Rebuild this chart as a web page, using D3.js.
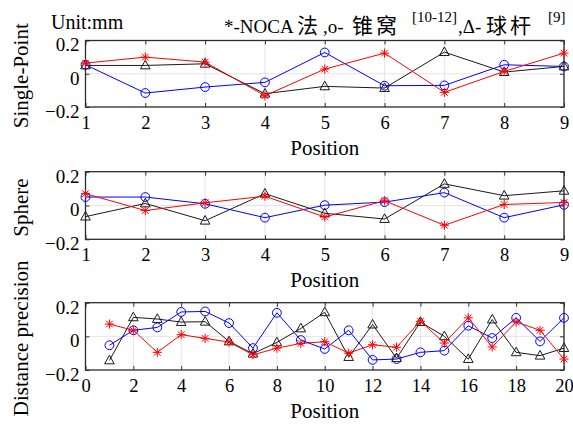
<!DOCTYPE html>
<html>
<head>
<meta charset="utf-8">
<script src="https://cdn.jsdelivr.net/npm/d3@7"></script>
<style>
  body { margin: 0; background: #fff; }
  text { font-family: "Liberation Serif", "Times New Roman", serif; fill: #000; }
  .cjk { font-family: "Noto Sans CJK SC", sans-serif; }
</style>
</head>
<body>
<svg id="chart" width="573" height="425"></svg>
<script>
// ---- data (unit: mm) ----
const positions9 = [1, 2, 3, 4, 5, 6, 7, 8, 9];
const positions20 = d3.range(1, 21);

const singleNoca = [0.064, 0.10, 0.07, -0.132, 0.028, 0.124, -0.112, 0.014, 0.124];
const singleCone = [0.054, -0.116, -0.08, -0.052, 0.128, -0.072, -0.07, 0.054, 0.044];
const singleBall = [0.05, 0.05, 0.06, -0.12, -0.076, -0.086, 0.13, 0.01, 0.044];

const sphereNoca = [0.07, -0.03, 0.016, 0.055, -0.068, 0.028, -0.117, 0.006, 0.018];
const sphereCone = [0.05, 0.05, 0.01, -0.072, 0.002, 0.02, 0.076, -0.072, 0.004];
const sphereBall = [-0.066, 0.012, -0.09, 0.07, -0.046, -0.08, 0.128, 0.058, 0.087];

const distNoca = [0.073, 0.036, -0.095, 0.01, -0.012, -0.034, -0.11, -0.07, -0.042, -0.032,
                  -0.1, -0.05, -0.065, 0.09, -0.04, 0.11, -0.063, 0.085, 0.036, -0.135];
const distCone = [-0.053, 0.036, 0.053, 0.145, 0.148, 0.079, -0.07, 0.14, -0.022, -0.075,
                  0.036, -0.14, -0.135, -0.095, -0.085, 0.063, -0.01, 0.11, -0.03, 0.11];
const distBall = [-0.143, 0.113, 0.103, 0.085, 0.087, -0.03, -0.103, -0.036, 0.047, 0.143,
                  -0.123, 0.07, -0.13, 0.085, 0, -0.135, 0.1, -0.095, -0.115, -0.07];

const yTicks = [-0.2, 0, 0.2];
const ticks9 = [1, 2, 3, 4, 5, 6, 7, 8, 9];
const ticks20 = [0, 2, 4, 6, 8, 10, 12, 14, 16, 18, 20];

const panels = [
  { label: "Single-Point", x: positions9, domain: [1, 9], ticks: ticks9, top: 40.5, bottom: 107,
    noca: singleNoca, cone: singleCone, ball: singleBall },
  { label: "Sphere", x: positions9, domain: [1, 9], ticks: ticks9, top: 171.7, bottom: 239.3,
    noca: sphereNoca, cone: sphereCone, ball: sphereBall },
  { label: "Distance precision", x: positions20, domain: [0, 20], ticks: ticks20, top: 302.7, bottom: 370,
    noca: distNoca, cone: distCone, ball: distBall }
];

const plotLeft = 85.5;
const plotRight = 564;
const red = "#ff0000";
const blue = "#0000ff";
const black = "#1a1a1a";

const svg = d3.select("#chart");

const asterisk = r => {
  const d = r * 0.72;
  return `M0,${-r}V${r}M${-r},0H${r}M${-d},${-d}L${d},${d}M${-d},${d}L${d},${-d}`;
};
const triangle = "M0,-5.2L4.8,3.4L-4.8,3.4Z";

panels.forEach(p => {
  const x = d3.scaleLinear().domain(p.domain).range([plotLeft, plotRight]);
  const y = d3.scaleLinear().domain([-0.2, 0.2]).range([p.bottom, p.top]);
  const g = svg.append("g");

  // grid
  g.selectAll(".vgrid")
    .data(p.ticks)
    .join("line")
    .attr("x1", d => x(d)).attr("x2", d => x(d))
    .attr("y1", p.top).attr("y2", p.bottom)
    .attr("stroke", "#e4e4e4").attr("stroke-width", 1);
  g.append("line")
    .attr("x1", plotLeft).attr("x2", plotRight)
    .attr("y1", y(0)).attr("y2", y(0))
    .attr("stroke", "#e4e4e4").attr("stroke-width", 1);

  // axes, ticks pointing in, mirrored on the opposite side
  const xb = g.append("g").attr("transform", `translate(0,${p.bottom})`)
    .call(d3.axisBottom(x).tickValues(p.ticks).tickSizeInner(-4).tickSizeOuter(0).tickPadding(7));
  const xt = g.append("g").attr("transform", `translate(0,${p.top})`)
    .call(d3.axisTop(x).tickValues(p.ticks).tickSizeInner(-4).tickSizeOuter(0).tickFormat(""));
  const yl = g.append("g").attr("transform", `translate(${plotLeft},0)`)
    .call(d3.axisLeft(y).tickValues(yTicks).tickSizeInner(-4).tickSizeOuter(0).tickPadding(6)
      .tickFormat(d => d === 0 ? "0" : d3.format(".1f")(d).replace("-", "\u2212")));
  const yr = g.append("g").attr("transform", `translate(${plotRight},0)`)
    .call(d3.axisRight(y).tickValues(yTicks).tickSizeInner(-4).tickSizeOuter(0).tickFormat(""));
  [xb, xt, yl, yr].forEach(a => {
    a.select(".domain").remove();
    a.selectAll(".tick line").attr("stroke", "#333");
  });
  xb.selectAll(".tick text").attr("font-size", 18.5).attr("dy", "0.8em")
    .style("font-family", "Liberation Serif");
  yl.selectAll(".tick text").attr("font-size", 19).attr("dy", "0.55em")
    .style("font-family", "Liberation Serif");

  g.append("rect")
    .attr("x", plotLeft).attr("y", p.top)
    .attr("width", plotRight - plotLeft).attr("height", p.bottom - p.top)
    .attr("fill", "none").attr("stroke", "#2b2b2b").attr("stroke-width", 1.3);

  const line = d3.line().x((d, i) => x(p.x[i])).y(d => y(d));

  // cone (blue circles)
  g.append("path").datum(p.cone).attr("d", line)
    .attr("fill", "none").attr("stroke", blue).attr("stroke-width", 1);
  g.selectAll(".cone").data(p.cone).join("circle")
    .attr("cx", (d, i) => x(p.x[i])).attr("cy", d => y(d)).attr("r", 4.4)
    .attr("fill", "none").attr("stroke", blue).attr("stroke-width", 1);

  // ball bar (black triangles)
  g.append("path").datum(p.ball).attr("d", line)
    .attr("fill", "none").attr("stroke", black).attr("stroke-width", 1);
  g.selectAll(".ball").data(p.ball).join("path")
    .attr("d", triangle)
    .attr("transform", (d, i) => `translate(${x(p.x[i])},${y(d)})`)
    .attr("fill", "none").attr("stroke", black).attr("stroke-width", 1);

  // NOCA (red asterisks)
  g.append("path").datum(p.noca).attr("d", line)
    .attr("fill", "none").attr("stroke", red).attr("stroke-width", 1);
  g.selectAll(".noca").data(p.noca).join("path")
    .attr("d", asterisk(4.6))
    .attr("transform", (d, i) => `translate(${x(p.x[i])},${y(d)})`)
    .attr("fill", "none").attr("stroke", red).attr("stroke-width", 1);

  // axis labels
  g.append("text")
    .attr("x", (plotLeft + plotRight) / 2).attr("y", p.bottom + 48)
    .attr("text-anchor", "middle").attr("font-size", 21)
    .text("Position");
  g.append("text")
    .attr("transform", `translate(28,${(p.top + p.bottom) / 2 + 2}) rotate(-90)`)
    .attr("text-anchor", "middle").attr("font-size", 21)
    .text(p.label);
});

// title row
svg.append("text").attr("x", 51).attr("y", 29).attr("font-size", 20).text("Unit:mm");

const legend = svg.append("g").attr("font-size", 19);
const legendLatin = [
  { x: 224, text: "*-NOCA" },
  { x: 323, text: ",o-" },
  { x: 458, text: ",\u0394-" }
];
const legendCjk = [
  { x: 297, text: "法" },
  { x: 352, text: "锥窝" },
  { x: 486, text: "球杆" }
];
const legendRefs = [
  { x: 412, text: "[10-12]" },
  { x: 548, text: "[9]" }
];
legend.selectAll(".lat").data(legendLatin).join("text")
  .attr("x", d => d.x).attr("y", 33).text(d => d.text);
legend.selectAll(".cj").data(legendCjk).join("text")
  .attr("class", "cjk").attr("x", d => d.x).attr("y", 33)
  .attr("font-size", 21).attr("letter-spacing", 3).text(d => d.text);
legend.selectAll(".ref").data(legendRefs).join("text")
  .attr("x", d => d.x).attr("y", 22).attr("font-size", 15).text(d => d.text);
</script>
</body>
</html>
